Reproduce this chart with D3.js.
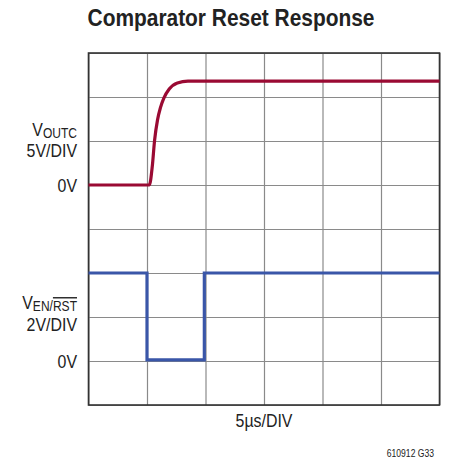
<!DOCTYPE html>
<html>
<head>
<meta charset="utf-8">
<script src="https://cdn.jsdelivr.net/npm/d3@7"></script>
<style>
  body { margin: 0; background: #fff; }
  text { font-family: "Liberation Sans Narrow", "Arial Narrow", "Liberation Sans", sans-serif; fill: #222; }
</style>
</head>
<body>
<div id="chart"></div>
<script>
// time in µs (5µs/DIV, 6 divisions)
const outcTime = [0, 5.2, 5.45, 5.65, 5.9, 6.15, 6.45, 6.9, 7.6, 8.5, 30];
const outcVolts = [0, 0, 2.1, 5.1, 7.4, 8.8, 9.9, 10.9, 11.6, 11.8, 11.8];

const enTime = [0, 5, 5, 9.9, 9.9, 30];
const enVolts = [4, 4, 0.05, 0.05, 4, 4];

const timeTicks = [0, 5, 10, 15, 20, 25, 30];
const divTicks = [0, 1, 2, 3, 4, 5, 6, 7, 8];

const W = 451, H = 461;
const plotLeft = 88.5, plotRight = 439.5, plotTop = 53, plotBottom = 405;

const svg = d3.select("#chart").append("svg")
    .attr("width", W).attr("height", H);

let x = d3.scaleLinear().domain([0, 30]).range([plotLeft, plotRight]);
let yDiv = d3.scaleLinear().domain([0, 8]).range([plotBottom, plotTop]);
let yOutc = d3.scaleLinear().domain([-25, 15]).range([plotBottom, plotTop]);   // 5V/DIV
let yEn = d3.scaleLinear().domain([-2, 14]).range([plotBottom, plotTop]);      // 2V/DIV

// grid
svg.append("g")
    .attr("transform", "translate(0," + plotBottom + ")")
    .call(d3.axisBottom(x).tickValues(timeTicks).tickSize(-(plotBottom - plotTop)).tickFormat(""))
    .call(g => g.select(".domain").remove())
    .selectAll("line").attr("stroke", "#8a8a8a").attr("stroke-width", 1.2);

svg.append("g")
    .attr("transform", "translate(" + plotLeft + ",0)")
    .call(d3.axisLeft(yDiv).tickValues(divTicks).tickSize(-(plotRight - plotLeft)).tickFormat(""))
    .call(g => g.select(".domain").remove())
    .selectAll("line").attr("stroke", "#8a8a8a").attr("stroke-width", 1.2);

svg.append("rect")
    .attr("x", plotLeft).attr("y", plotTop)
    .attr("width", plotRight - plotLeft).attr("height", plotBottom - plotTop)
    .attr("fill", "none").attr("stroke", "#333").attr("stroke-width", 1.6);

// traces
const outcLine = d3.line()
    .x((d, i) => x(outcTime[i]))
    .y(d => yOutc(d))
    .curve(d3.curveMonotoneX);

svg.append("path")
    .datum(outcVolts)
    .attr("d", outcLine)
    .attr("fill", "none")
    .attr("stroke", "#9a0a33")
    .attr("stroke-width", 3.2);

const enLine = d3.line()
    .x((d, i) => x(enTime[i]))
    .y(d => yEn(d));

svg.append("path")
    .datum(enVolts)
    .attr("d", enLine)
    .attr("fill", "none")
    .attr("stroke", "#3a56a8")
    .attr("stroke-width", 3.2);

// condensed text: squeeze horizontally since no narrow font is around
function label(px, py, anchor, size, sx) {
    return svg.append("text")
        .attr("transform", "translate(" + px + "," + py + ") scale(" + sx + ",1)")
        .attr("text-anchor", anchor)
        .style("font-size", size + "px");
}

label(231, 26, "middle", 23.5, 0.89).style("font-weight", "bold")
    .text("Comparator Reset Response");

// left labels
const lx = 77;
let t1 = label(lx, 136, "end", 18.5, 0.86);
t1.append("tspan").text("V");
t1.append("tspan").attr("dy", 2).style("font-size", "14px").text("OUTC");

label(lx, 157, "end", 18.5, 0.86).text("5V/DIV");
label(lx, yOutc(0) + 6.5, "end", 18.5, 0.86).text("0V");

let t2 = label(lx, 309, "end", 18.5, 0.86);
t2.append("tspan").text("V");
t2.append("tspan").attr("dy", 2).style("font-size", "14px").text("EN/");
t2.append("tspan").style("font-size", "14px").style("text-decoration", "overline").text("RST");

label(lx, 331, "end", 18.5, 0.86).text("2V/DIV");
label(lx, yEn(0) + 6.5, "end", 18.5, 0.86).text("0V");

// x label
label((plotLeft + plotRight) / 2, 427, "middle", 18.5, 0.86).text("5µs/DIV");

label(434, 457, "end", 11, 0.78).text("610912 G33");
</script>
</body>
</html>
